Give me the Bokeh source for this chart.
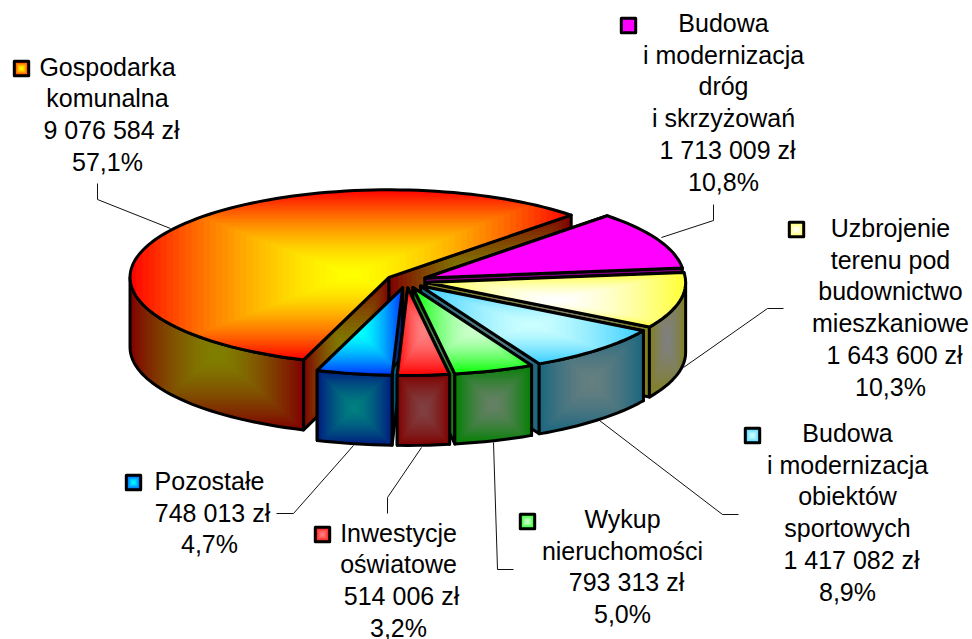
import math
from bokeh.plotting import figure
from bokeh.models import ColumnDataSource, Range1d
from bokeh.core.properties import value
from bokeh.embed import file_html
from bokeh.resources import INLINE

# ---- data, in clockwise drawing order starting at the upper edge of the magenta slice
names = [
    ["Budowa", "i modernizacja", "dróg", "i skrzyżowań"],
    ["Uzbrojenie", "terenu pod", "budownictwo", "mieszkaniowe"],
    ["Budowa", "i modernizacja", "obiektów", "sportowych"],
    ["Wykup", "nieruchomości"],
    ["Inwestycje", "oświatowe"],
    ["Pozostałe"],
    ["Gospodarka", "komunalna"],
]
amounts = [1713009, 1643600, 1417082, 793313, 514006, 748013, 9076584]

# ---- styles: gradient (centre colour, edge colour) of each slice's top face
top_centre = [(255, 0, 255), (255, 255, 255), (204, 255, 255), (204, 255, 204),
              (255, 128, 128), (0, 255, 255), (255, 255, 0)]
top_edge = [(255, 0, 255), (255, 255, 51), (51, 204, 255), (0, 255, 0),
            (255, 0, 0), (0, 51, 255), (255, 0, 0)]

# ---- layout, all in pixels of the 972x639 picture
CX, CY, RX, RY, DEPTH, EXPLODE, START = 406.0, 280.5, 259.0, 87.5, 70.0, 20.6, 45.3
FONT_PX, LINE, TEXT_DY, EASE = 25, 31.7, -9.5, 1.5
label_x = [723, 890, 847, 622, 398, 209, 107]
label_y = [32, 237, 442, 528, 541.5, 490, 75.5]
money_dx = [4, 4, 4, 4, 3, 3, 4]
key_xy = [(628, 25), (796, 229), (752, 435), (527, 521), (322, 534), (133, 482), (21, 68)]
leaders = [
    [(713, 204), (713, 220), (661, 237)],
    [(783, 308), (767, 308), (683, 367)],
    [(738, 514), (722, 514), (599, 420)],
    [(513, 569), (497, 569), (493, 442)],
    [(387, 513), (387, 497), (421, 447)],
    [(276, 513), (293, 513), (353, 445)],
    [(97, 183), (97, 199), (170, 228)],
]
draw_order = [6, 0, 1, 2, 3, 5, 4]

p = figure(width=972, height=639, x_range=Range1d(0, 972), y_range=Range1d(639, 0),
           x_axis_type=None, y_axis_type=None, toolbar_location=None,
           output_backend="svg", min_border=0, outline_line_color=None)
p.xgrid.visible = False
p.ygrid.visible = False


def clip_rect(poly, x0, y0, x1, y1):
    """Sutherland-Hodgman clip of a polygon to a rectangle."""
    tests = [
        (lambda q: q[0] >= x0, lambda a, b: (x0, a[1] + (b[1] - a[1]) * (x0 - a[0]) / (b[0] - a[0]))),
        (lambda q: q[0] <= x1, lambda a, b: (x1, a[1] + (b[1] - a[1]) * (x1 - a[0]) / (b[0] - a[0]))),
        (lambda q: q[1] >= y0, lambda a, b: (a[0] + (b[0] - a[0]) * (y0 - a[1]) / (b[1] - a[1]), y0)),
        (lambda q: q[1] <= y1, lambda a, b: (a[0] + (b[0] - a[0]) * (y1 - a[1]) / (b[1] - a[1]), y1)),
    ]
    out = poly
    for inside, cross in tests:
        src, out = out, []
        if not src:
            return []
        for i, cur in enumerate(src):
            prev = src[i - 1]
            if inside(cur):
                if not inside(prev):
                    out.append(cross(prev, cur))
                out.append(cur)
            elif inside(prev):
                out.append(cross(prev, cur))
    return out


def hexcol(c):
    return "#%02x%02x%02x" % tuple(int(round(v)) for v in c)


def face(poly, centre, edge, levels=36, line_width=3.0):
    """Rectangular path gradient over the polygon's bounding box, then an outline."""
    xs = [q[0] for q in poly]
    ys = [q[1] for q in poly]
    mx, my = (min(xs) + max(xs)) / 2, (min(ys) + max(ys)) / 2
    hw, hh = (max(xs) - min(xs)) / 2, (max(ys) - min(ys)) / 2
    px, py, cols = [], [], []
    for n in range(levels, 0, -1):
        t = n / levels
        clipped = clip_rect(poly, mx - hw * t - .01, my - hh * t - .01, mx + hw * t + .01, my + hh * t + .01)
        if len(clipped) < 3:
            continue
        px.append([q[0] for q in clipped])
        py.append([q[1] for q in clipped])
        s = ((n - .5) / levels) ** EASE
        cols.append(hexcol([a + (b - a) * s for a, b in zip(centre, edge)]))
    p.patches(px, py, fill_color=cols, line_color=None)
    p.patch(xs + xs[:1], ys + ys[:1], fill_color=None, fill_alpha=0,
            line_color="black", line_width=line_width, line_join="round")


total = sum(amounts)

# leaders lie under the pie
for path in leaders:
    p.line([q[0] for q in path], [q[1] for q in path], line_color="#111111", line_width=1)

# slices
angles = [START]
for a in amounts:
    angles.append(angles[-1] - 360.0 * a / total)


def half(c):
    return tuple(v / 2 for v in c)


for i in draw_order:
    a0, a1 = angles[i], angles[i + 1]
    mid = math.radians((a0 + a1) / 2)
    ax = CX + EXPLODE * math.cos(mid)
    ay = CY - EXPLODE * RY / RX * math.sin(mid)

    def rim(a, dy=0.0):
        r = math.radians(a)
        return (ax + RX * math.cos(r), ay - RY * math.sin(r) + dy)

    steps = max(2, int((a0 - a1) / 2))
    arc = [a0 + (a1 - a0) * k / steps for k in range(steps + 1)]
    sc, se = half(top_centre[i]), half(top_edge[i])

    # the two cut faces
    for a in (a0, a1):
        q = rim(a)
        face([(ax, ay), q, (q[0], q[1] + DEPTH), (ax, ay + DEPTH)], sc, se, levels=20)

    # outer wall: only the part whose angle faces the viewer
    wall = []
    for base in (-360, 0):
        lo, hi = max(a1, base - 180 + 0), min(a0, base)
        if lo < hi:
            n = max(2, int((hi - lo) / 2))
            wall.append([hi + (lo - hi) * k / n for k in range(n + 1)])
    for w in wall:
        face([rim(a) for a in w] + [rim(a, DEPTH) for a in reversed(w)], sc, se)

    # top
    face([(ax, ay)] + [rim(a) for a in arc], top_centre[i], top_edge[i])

# legend keys
for i, (kx, ky) in enumerate(key_xy):
    s = 7.2
    face([(kx - s, ky - s), (kx + s, ky - s), (kx + s, ky + s), (kx - s, ky + s)],
         top_centre[i], top_edge[i], levels=7, line_width=3.0)

# labels
tx, ty, tt = [], [], []
for i, lines in enumerate(names):
    y = label_y[i] + TEXT_DY
    for line in lines:
        tx.append(label_x[i]); ty.append(y); tt.append(line)
        y += LINE
    money = f"{amounts[i]:,}".replace(",", " ") + " zł"
    share = f"{100 * amounts[i] / total:.1f}".replace(".", ",") + "%"
    tx.append(label_x[i] + money_dx[i]); ty.append(y); tt.append(money)
    y += LINE
    tx.append(label_x[i]); ty.append(y); tt.append(share)

p.text(x="x", y="y", text="t", source=ColumnDataSource(dict(x=tx, y=ty, t=tt)),
       text_font=value("Liberation Sans"), text_font_size=f"{FONT_PX}px",
       text_align="center", text_baseline="alphabetic", text_color="black")

open("out.html", "w").write(file_html(p, INLINE))
